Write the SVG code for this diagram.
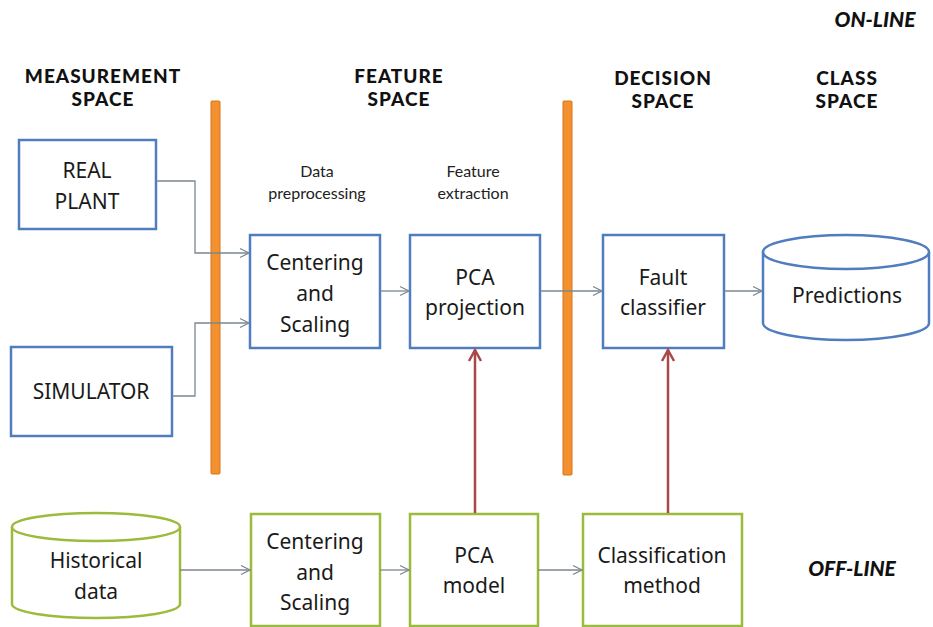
<svg xmlns="http://www.w3.org/2000/svg" width="933" height="627" viewBox="0 0 933 627">
  <style>
    .bg { fill: #ffffff; }
    .hdr { font-family: Lato, "Open Sans", sans-serif; font-weight: 900; font-size: 19px; fill: #111; text-anchor: middle; letter-spacing: 1px; }
    .mode { font-family: Lato, "Open Sans", sans-serif; font-weight: 900; font-style: italic; font-size: 21px; fill: #111; text-anchor: middle; }
    .sub { font-family: Lato, "Open Sans", sans-serif; font-size: 16px; fill: #222; text-anchor: middle; }
    .lbl { font-family: "Noto Sans", "Open Sans", sans-serif; font-size: 21px; fill: #1a1a1a; text-anchor: middle; }
    .on { fill: #ffffff; stroke: #4f7dc0; stroke-width: 2.5; }
    .off { fill: #ffffff; stroke: #9bbb3c; stroke-width: 2.5; }
    .bar { fill: #f39030; stroke: #d97418; stroke-width: 1; }
    .flow { fill: none; stroke: #7b8790; stroke-width: 1.3; }
    .feed { fill: none; stroke: #a84848; stroke-width: 2.5; }
  </style>
  <defs>
    <marker id="open" markerWidth="12" markerHeight="12" refX="10" refY="6" orient="auto" markerUnits="userSpaceOnUse">
      <path d="M1,1.5 L10,6 L1,10.5" fill="none" stroke="#7b8790" stroke-width="1.3"/>
    </marker>
    <marker id="openRed" markerWidth="16" markerHeight="16" refX="13" refY="8" orient="auto" markerUnits="userSpaceOnUse">
      <path d="M2,2 L13,8 L2,14" fill="none" stroke="#a84848" stroke-width="2.5"/>
    </marker>
  </defs>

  <rect class="bg" x="0" y="0" width="933" height="627"/>

  <!-- space headers -->
  <g id="headers">
    <text class="hdr" x="103" y="83">MEASUREMENT</text>
    <text class="hdr" x="103" y="106">SPACE</text>
    <text class="hdr" x="399" y="83">FEATURE</text>
    <text class="hdr" x="399" y="106">SPACE</text>
    <text class="hdr" x="663" y="85">DECISION</text>
    <text class="hdr" x="663" y="108">SPACE</text>
    <text class="hdr" x="847" y="85">CLASS</text>
    <text class="hdr" x="847" y="108">SPACE</text>
    <text class="mode" x="875" y="27">ON-LINE</text>
    <text class="mode" x="852" y="576">OFF-LINE</text>
  </g>

  <!-- stage labels -->
  <g id="stage-labels">
    <text class="sub" x="317" y="177">Data</text>
    <text class="sub" x="317" y="199">preprocessing</text>
    <text class="sub" x="473" y="177">Feature</text>
    <text class="sub" x="473" y="199">extraction</text>
  </g>

  <!-- space separators -->
  <g id="separators">
    <rect class="bar" x="211" y="101" width="9" height="373" rx="1"/>
    <rect class="bar" x="563" y="101" width="9" height="374" rx="1"/>
  </g>

  <!-- on-line nodes -->
  <g id="real-plant">
    <rect class="on" x="19" y="140" width="137" height="89"/>
    <text class="lbl" x="87" y="178">REAL</text>
    <text class="lbl" x="87" y="209">PLANT</text>
  </g>
  <g id="simulator">
    <rect class="on" x="11" y="347" width="161" height="89"/>
    <text class="lbl" x="91" y="399">SIMULATOR</text>
  </g>
  <g id="centering-online">
    <rect class="on" x="250" y="235" width="130" height="113"/>
    <text class="lbl" x="315" y="270">Centering</text>
    <text class="lbl" x="315" y="301">and</text>
    <text class="lbl" x="315" y="332">Scaling</text>
  </g>
  <g id="pca-projection">
    <rect class="on" x="410" y="235" width="130" height="113"/>
    <text class="lbl" x="475" y="285">PCA</text>
    <text class="lbl" x="475" y="315">projection</text>
  </g>
  <g id="fault-classifier">
    <rect class="on" x="603" y="235" width="121" height="113"/>
    <text class="lbl" x="663" y="285">Fault</text>
    <text class="lbl" x="663" y="315">classifier</text>
  </g>
  <g id="predictions">
    <path class="on" d="M763,252 L763,323 A83,17 0 0 0 929,323 L929,252"/>
    <ellipse class="on" cx="846" cy="252" rx="83" ry="17"/>
    <text class="lbl" x="847" y="303">Predictions</text>
  </g>

  <!-- off-line nodes -->
  <g id="historical-data">
    <path class="off" d="M12,527 L12,604 A84,14 0 0 0 180,604 L180,527"/>
    <ellipse class="off" cx="96" cy="527" rx="84" ry="14"/>
    <text class="lbl" x="96" y="568">Historical</text>
    <text class="lbl" x="96" y="599">data</text>
  </g>
  <g id="centering-offline">
    <rect class="off" x="251" y="514" width="129" height="112"/>
    <text class="lbl" x="315" y="549">Centering</text>
    <text class="lbl" x="315" y="580">and</text>
    <text class="lbl" x="315" y="610">Scaling</text>
  </g>
  <g id="pca-model">
    <rect class="off" x="410" y="514" width="128" height="112"/>
    <text class="lbl" x="474" y="563">PCA</text>
    <text class="lbl" x="474" y="593">model</text>
  </g>
  <g id="classification-method">
    <rect class="off" x="583" y="514" width="159" height="112"/>
    <text class="lbl" x="662" y="563">Classification</text>
    <text class="lbl" x="662" y="593">method</text>
  </g>

  <!-- connectors -->
  <g id="connectors">
    <path class="flow" d="M156,181 H195 V253 H249" marker-end="url(#open)"/>
    <path class="flow" d="M172,396 H195 V323 H249" marker-end="url(#open)"/>
    <path class="flow" d="M380,291 H409" marker-end="url(#open)"/>
    <path class="flow" d="M540,291 H602" marker-end="url(#open)"/>
    <path class="flow" d="M724,291 H762" marker-end="url(#open)"/>
    <path class="flow" d="M180,570 H250" marker-end="url(#open)"/>
    <path class="flow" d="M380,570 H409" marker-end="url(#open)"/>
    <path class="flow" d="M538,570 H582" marker-end="url(#open)"/>
    <path class="feed" d="M475,513 V350" marker-end="url(#openRed)"/>
    <path class="feed" d="M668,513 V350" marker-end="url(#openRed)"/>
  </g>
</svg>
